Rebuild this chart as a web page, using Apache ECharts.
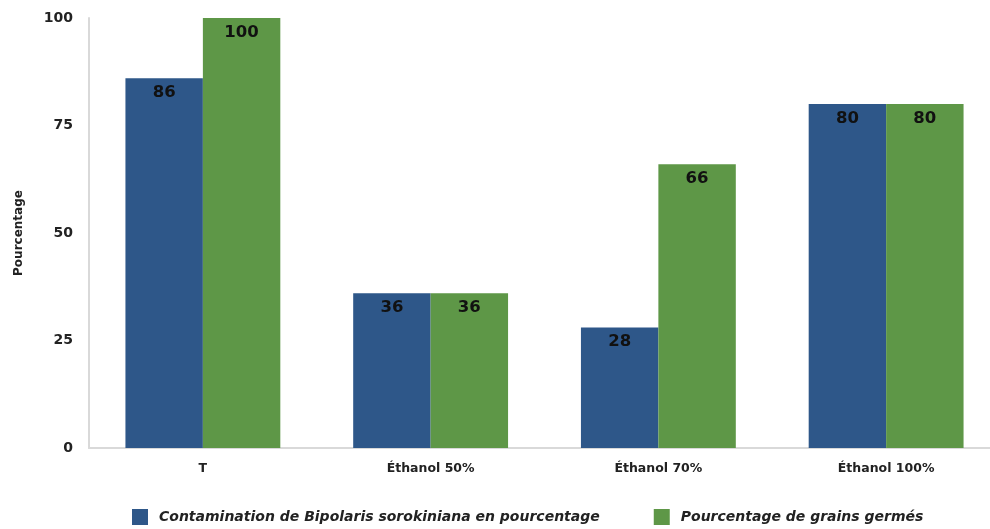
<!DOCTYPE html>
<html>
<head>
<meta charset="utf-8">
<script src="https://cdn.jsdelivr.net/npm/echarts@6/dist/echarts.min.js"></script>
<style>
  html, body { margin: 0; padding: 0; background: #fff; }
  #chart { width: 990px; height: 529px; }
</style>
</head>
<body>
<div id="chart"></div>
<script>
// Treatments on the x axis
const categories = ['T', 'Éthanol 50%', 'Éthanol 70%', 'Éthanol 100%'];
// Contamination rate (%) per treatment
const contamination = [86, 36, 28, 80];
// Germination rate (%) per treatment
const germination = [100, 36, 66, 80];
const seriesNames = [
  'Contamination de Bipolaris sorokiniana en pourcentage',
  'Pourcentage de grains germés'
];
const yTicks = [0, 25, 50, 75, 100];

const FONT = '"DejaVu Sans", sans-serif';
const chart = echarts.init(document.getElementById('chart'));

const labelStyle = {
  show: true,
  position: 'insideTop',
  distance: 6,
  color: '#111',
  fontFamily: FONT,
  fontWeight: 'bold',
  fontSize: 16.5
};

chart.setOption({
  animation: false,
  grid: { left: 89, top: 18, bottom: 81, width: 911, outerBoundsMode: 'none', containLabel: false },
  legend: {
    left: 127,
    top: 504,
    itemWidth: 16,
    itemHeight: 16,
    itemGap: 54,
    icon: 'rect',
    textStyle: {
      fontFamily: FONT,
      fontStyle: 'italic',
      fontWeight: 'bold',
      fontSize: 14,
      color: '#222',
      padding: [0, 0, 0, 6]
    },
    data: seriesNames
  },
  xAxis: {
    type: 'category',
    data: categories,
    axisLine: { lineStyle: { color: '#d9d9d9', width: 2 } },
    axisTick: { show: false },
    axisLabel: {
      margin: 14,
      color: '#222',
      fontFamily: FONT,
      fontWeight: 'bold',
      fontSize: 12.5
    }
  },
  yAxis: {
    type: 'value',
    min: yTicks[0],
    max: yTicks[yTicks.length - 1],
    interval: 25,
    name: 'Pourcentage',
    nameLocation: 'middle',
    nameGap: 64,
    nameTextStyle: {
      color: '#222',
      fontFamily: FONT,
      fontWeight: 'bold',
      fontSize: 12
    },
    axisLine: { show: true, lineStyle: { color: '#d9d9d9', width: 2 } },
    axisTick: { show: false },
    splitLine: { show: false },
    axisLabel: {
      margin: 16,
      color: '#222',
      fontFamily: FONT,
      fontWeight: 'bold',
      fontSize: 14
    }
  },
  series: [
    {
      name: seriesNames[0],
      type: 'bar',
      data: contamination,
      barGap: '0%',
      barCategoryGap: '32%',
      itemStyle: { color: '#2e5789' },
      label: labelStyle
    },
    {
      name: seriesNames[1],
      type: 'bar',
      data: germination,
      itemStyle: { color: '#5e9747' },
      label: labelStyle
    }
  ]
});
</script>
</body>
</html>
